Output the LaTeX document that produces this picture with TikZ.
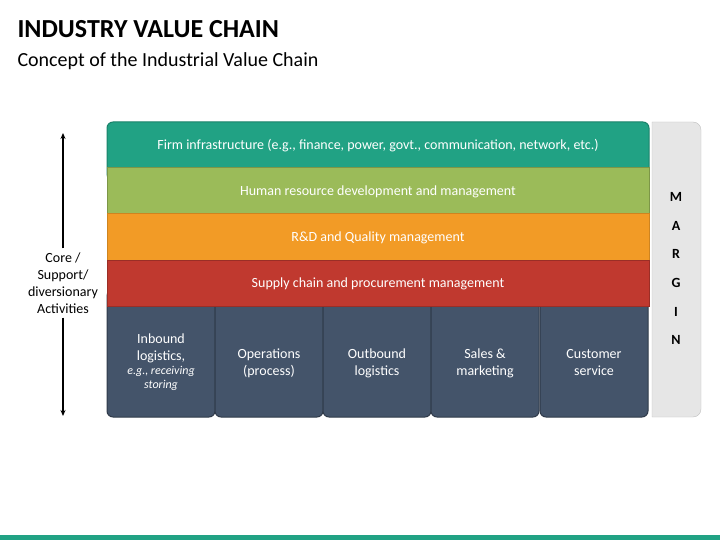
\documentclass[tikz,border=0pt]{standalone}
\usepackage{fontspec}
\setmainfont{Carlito}
\usetikzlibrary{positioning,calc}
\usetikzlibrary{arrows.meta}
\definecolor{ChainTeal}{RGB}{33,162,132}
\definecolor{ChainGreen}{RGB}{155,187,89}
\definecolor{ChainOrange}{RGB}{242,155,38}
\definecolor{ChainRed}{RGB}{192,57,47}
\definecolor{ChainSlate}{RGB}{68,84,106}
\definecolor{MarginGray}{RGB}{230,230,230}
\tikzset{
	band/.style={line width=1pt},
	bandtext/.style={text=white,font=\fontsize{14}{17}\selectfont},
	prim/.style={draw=ChainSlate!70!black,fill=ChainSlate,line width=1pt,rounded corners=6pt},
	primtext/.style={text=white,align=center,font=\fontsize{14}{17}\selectfont},
	letter/.style={font=\bfseries\fontsize{14}{16}\selectfont},
}
\begin{document}
\begin{tikzpicture}[x=1pt,y=-1pt]
			\useasboundingbox (0,0) rectangle (720,540);
			% title
			\node[anchor=west,font=\bfseries\fontsize{26}{30}\selectfont] (title) at (14,29) {INDUSTRY VALUE CHAIN};
			\node[anchor=west,font=\fontsize{20}{24}\selectfont] (subtitle) at (14,61) {Concept of the Industrial Value Chain};
			% primary activities
			\foreach \i/\x in {1/107,2/215,3/323,4/431,5/540}
			\draw[prim] (\x,290) rectangle ++(108,127);
			\node[primtext] (inb) at (161,362) {Inbound\\logistics,\\[-3pt]{\itshape\fontsize{12}{14}\selectfont e.g., receiving}\\[-3pt]{\itshape\fontsize{12}{14}\selectfont storing}};
			\node[primtext] (ops) at (269,363) {Operations\\(process)};
			\node[primtext] (outb) at (377,363) {Outbound\\logistics};
			\node[primtext] (sales) at (485,363) {Sales \&\\marketing};
			\node[primtext] (cust) at (594,363) {Customer\\service};
			% support activities
			\draw[band,draw=ChainTeal!80!black,fill=ChainTeal,rounded corners=6pt] (107,122) rectangle (649,180);
			\draw[band,draw=ChainGreen!80!black,fill=ChainGreen] (107,168) rectangle (649,214);
			\draw[band,draw=ChainOrange!85!black,fill=ChainOrange] (107,214) rectangle (649,260);
			\draw[band,draw=ChainRed!80!black,fill=ChainRed] (107,260) rectangle (649,306);
			\node[bandtext] (infra) at (378,146) {Firm infrastructure (e.g., finance, power, govt., communication, network, etc.)};
			\node[bandtext] (hr) at (378,192) {Human resource development and management};
			\node[bandtext] (rd) at (378,238) {R\&D and Quality management};
			\node[bandtext] (supply) at (378,284) {Supply chain and procurement management};
			% margin
			\draw[draw=black!25,fill=MarginGray] (652,122) [rounded corners=8pt] -- (701,122) -- (701,417) [sharp corners] -- (652,417) -- cycle;
			\foreach \c/\y in {M/197,A/226,R/254,G/283,I/312,N/340}
			\node[letter] (m\c) at (676,\y) {\c};
			% side arrow
			\node[align=center,font=\fontsize{14}{17}\selectfont,inner sep=4pt] (side) at (63,283) {Core /\\Support/\\diversionary\\Activities};
			\coordinate (top) at (63,133);
			\coordinate (bot) at (63,416);
			\draw[-{Stealth[length=6pt,width=5pt]},line width=1.5pt] (side.north) -- (top);
			\draw[-{Stealth[length=6pt,width=5pt]},line width=1.5pt] (side.south) -- (bot);
			% footer
			\fill[ChainTeal] (0,535) rectangle (720,540);
		\end{tikzpicture}
\end{document}
